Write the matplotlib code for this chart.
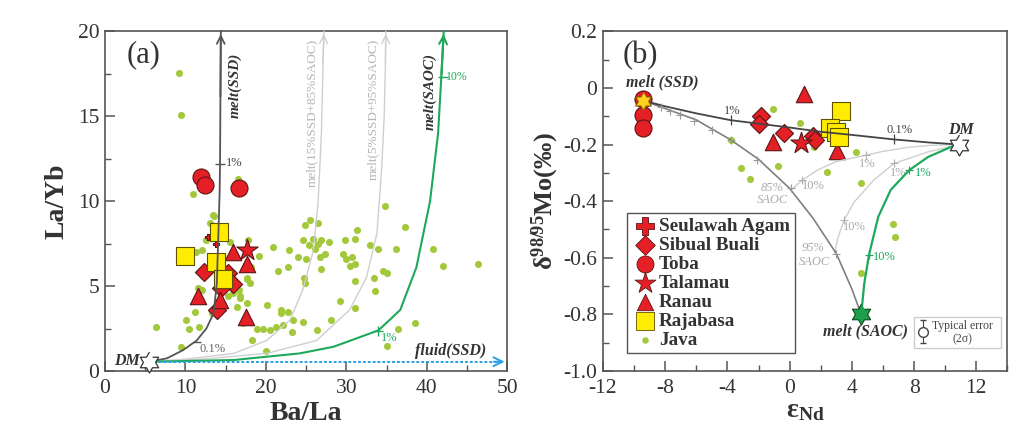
import numpy as np
import matplotlib
matplotlib.use('Agg')
import matplotlib.pyplot as plt
from matplotlib.ticker import MultipleLocator

plt.rcParams['font.family'] = ['Liberation Serif', 'DejaVu Serif']
plt.rcParams['mathtext.fontset'] = 'custom'
plt.rcParams['mathtext.rm'] = 'Liberation Serif'
plt.rcParams['mathtext.it'] = 'Liberation Serif:italic'
plt.rcParams['mathtext.bf'] = 'Liberation Serif:bold'

# ---------------- panel (a) data : Ba/La vs La/Yb ----------------
java_a_x = [9.24, 9.44, 10.98, 16.5, 13.5, 13.0, 17.8, 11.3, 19.1, 20.9, 21.5, 22.9, 22.8, 24.8, 25.5,
            26.5, 24.6, 25.3, 25.9, 26.5, 26.9, 27.8, 26.1, 24.0, 25.0, 26.7, 27.4, 26.8, 24.7, 24.9,
            29.8, 31.3, 31.1, 29.6, 30.0, 30.7, 30.4, 31.1, 31.1, 32.9, 33.9, 33.4, 33.6, 34.8, 34.6,
            35.0, 37.3, 36.2, 40.8, 42.0, 46.4, 31.1, 29.2, 20.1, 21.9, 21.9, 22.8, 23.4, 24.6, 21.2,
            22.1, 23.2, 19.7, 20.5, 18.9, 26.3, 28.1, 36.4, 38.5, 35.0, 20.0, 18.3, 6.3, 10.1, 10.4,
            11.7, 11.2, 9.4, 15.9, 16.8, 16.4, 17.6, 17.6, 18.0, 16.6, 17.2, 12.0, 11.8, 12.6, 12.0,
            15.5, 18.2, 13.4, 13.3, 15.3, 11.6, 16.8, 17.7]
java_a_y = [17.55, 15.1, 10.4, 11.3, 9.1, 8.7, 7.7, 7.0, 6.8, 7.3, 5.9, 7.1, 6.1, 8.6, 8.9,
            8.7, 7.7, 7.4, 7.8, 7.5, 7.7, 7.6, 7.2, 6.7, 6.6, 6.7, 6.9, 6.0, 5.5, 5.2,
            7.7, 8.3, 7.8, 6.9, 6.6, 6.7, 6.2, 6.3, 5.3, 7.4, 7.2, 5.5, 4.7, 9.7, 5.9,
            5.8, 8.5, 7.2, 7.2, 6.2, 6.3, 3.7, 4.1, 3.9, 3.6, 3.4, 3.5, 3.0, 2.9, 2.6,
            2.7, 2.3, 2.5, 2.4, 2.5, 2.4, 3.0, 2.5, 2.8, 1.5, 1.2, 1.8, 2.6, 3.0, 2.5,
            2.6, 3.5, 1.4, 4.6, 4.3, 3.8, 4.0, 5.4, 5.2, 4.8, 2.8, 4.8, 4.1, 7.7, 7.1,
            7.6, 6.1, 9.2, 3.4, 4.4, 4.9, 4.4, 5.5]

seul_a_x = [12.85, 13.77]
seul_a_y = [7.9, 7.47]
sibual_a_x = [12.3, 15.3, 15.9, 13.9, 14.4]
sibual_a_y = [5.85, 5.75, 5.15, 3.6, 4.9]
toba_a_x = [11.9, 12.45, 16.7]
toba_a_y = [11.4, 10.95, 10.8]
talamau_a_x = [17.7]
talamau_a_y = [7.1]
ranau_a_x = [15.9, 17.6, 11.6, 14.3, 17.5]
ranau_a_y = [7.0, 6.3, 4.4, 4.2, 3.2]
raja_a_x = [14.2, 9.95, 13.8, 14.7]
raja_a_y = [8.2, 6.8, 6.4, 5.4]

dm_a = (5.5, 0.55)

# model curves
ssd_a_x = [5.5, 7.7, 9.7, 11.4, 12.6, 13.5, 13.9, 14.1, 14.25, 14.3, 14.35, 14.4]
ssd_a_y = [0.55, 0.75, 1.23, 1.8, 2.5, 3.4, 5.15, 8.1, 10.5, 12.2, 16.0, 20.0]
mix15_x = [5.5, 10.0, 16.0, 20.1, 23.0, 24.6, 25.9, 26.5, 26.9, 27.1, 27.2]
mix15_y = [0.55, 0.7, 1.04, 1.8, 3.0, 4.8, 7.1, 10.0, 14.0, 18.0, 20.0]
mix5_x = [5.5, 12.0, 20.1, 26.3, 30.4, 32.5, 33.8, 34.4, 34.7, 34.85, 34.9]
mix5_y = [0.55, 0.7, 1.04, 1.8, 3.6, 5.5, 8.1, 12.0, 15.0, 18.0, 20.0]
saoc_a_x = [5.5, 16.0, 24.2, 28.4, 31.7, 34.0, 36.7, 38.7, 40.4, 41.4, 41.8, 42.1]
saoc_a_y = [0.55, 0.65, 1.04, 1.43, 2.0, 2.4, 3.6, 6.1, 10.0, 14.0, 17.3, 20.0]

# ---------------- panel (b) data : eNd vs d98/95Mo ----------------
java_b_x = [-1.1, 0.66, 1.57, -3.78, -3.11, -2.53, -0.76, 2.38, 4.27, 4.62, 6.62, 6.77, 4.62]
java_b_y = [-0.074, -0.125, -0.208, -0.185, -0.283, -0.321, -0.276, -0.297, -0.225, -0.335, -0.479, -0.526, -0.653]
sibual_b_x = [-1.83, -1.98, -0.37, 1.53, 1.61]
sibual_b_y = [-0.099, -0.129, -0.158, -0.17, -0.185]
toba_b_x = [-9.46, -9.46, -9.46]
toba_b_y = [-0.04, -0.097, -0.142]
talamau_b_x = [0.75]
talamau_b_y = [-0.193]
ranau_b_x = [0.91, -1.05, 3.03]
ranau_b_y = [-0.02, -0.192, -0.222]
raja_b_x = [3.33, 2.6, 3.0, 3.2]
raja_b_y = [-0.082, -0.14, -0.155, -0.172]

dm_b = (10.9, -0.2)
ssd_b = (-9.4, -0.045)
saoc_b = (4.6, -0.8)

dmssd_x = [10.9, 9.0, 6.7, 4.0, 2.0, 0.0, -1.9, -3.8, -6.0, -8.0, -9.4]
dmssd_y = [-0.2, -0.193, -0.182, -0.166, -0.155, -0.14, -0.127, -0.114, -0.09, -0.065, -0.045]
ssdsaoc_x = [-9.4, -8.3, -7.0, -6.0, -5.0, -3.8, -2.0, 0.0, 1.5, 3.0, 4.0, 4.6]
ssdsaoc_y = [-0.045, -0.067, -0.093, -0.113, -0.145, -0.183, -0.252, -0.355, -0.46, -0.585, -0.71, -0.8]
mix85_x = [10.9, 9.0, 7.6, 6.0, 4.9, 3.0, 1.8, 0.8, 0.1]
mix85_y = [-0.2, -0.203, -0.21, -0.224, -0.238, -0.26, -0.29, -0.326, -0.36]
mix95_x = [10.9, 8.9, 6.7, 5.4, 4.15, 3.5, 3.1, 2.9]
mix95_y = [-0.2, -0.226, -0.267, -0.326, -0.403, -0.467, -0.53, -0.582]
saoc_b_x = [10.9, 10.4, 8.9, 7.7, 6.5, 5.7, 5.1, 4.8, 4.6]
saoc_b_y = [-0.2, -0.208, -0.244, -0.29, -0.36, -0.455, -0.59, -0.69, -0.8]

# colours
RED = '#e41f26'
REDEDGE = '#5c1414'
YEL = '#ffec00'
YELEDGE = '#5e5200'
JAVA = '#a3c83c'
GREEN = '#1ea85a'
DARK = '#555555'
LIGHT = '#cfcfcf'
BLUE = '#2b9fe3'

# six-pointed star marker
ang = np.deg2rad(np.arange(12) * 30 + 90)
rad = np.where(np.arange(12) % 2 == 0, 1.0, 0.577)
hexstar = list(zip(rad * np.cos(ang), rad * np.sin(ang)))

fig = plt.figure(figsize=(10.29, 4.34), dpi=100)
ax1 = fig.add_axes([0.102, 0.145, 0.391, 0.783])
ax2 = fig.add_axes([0.586, 0.145, 0.393, 0.783])

ms = dict(edgecolors=REDEDGE, linewidths=0.8, zorder=4)


def red_groups(ax, d):
    ax.scatter(d['seul'][0], d['seul'][1], marker='P', s=20, color=RED, **ms)
    ax.scatter(d['sib'][0], d['sib'][1], marker='D', s=85, color=RED, **ms)
    ax.scatter(d['toba'][0], d['toba'][1], marker='o', s=150, color=RED, **ms)
    ax.scatter(d['tal'][0], d['tal'][1], marker='*', s=260, color=RED, **ms)
    ax.scatter(d['ran'][0], d['ran'][1], marker='^', s=140, color=RED, **ms)
    ax.scatter(d['raj'][0], d['raj'][1], marker='s', s=150, color=YEL,
               edgecolors=YELEDGE, linewidths=0.8, zorder=4)


# ---------------- panel (a) ----------------
ax1.scatter(java_a_x, java_a_y, s=26, color=JAVA, linewidths=0, zorder=2)
red_groups(ax1, {'seul': (seul_a_x, seul_a_y), 'sib': (sibual_a_x, sibual_a_y),
                 'toba': (toba_a_x, toba_a_y), 'tal': (talamau_a_x, talamau_a_y),
                 'ran': (ranau_a_x, ranau_a_y), 'raj': (raja_a_x, raja_a_y)})

for cx, cy, col, lw in [(mix15_x, mix15_y, LIGHT, 1.0), (mix5_x, mix5_y, LIGHT, 1.0),
                        (ssd_a_x, ssd_a_y, DARK, 1.3), (saoc_a_x, saoc_a_y, GREEN, 1.5)]:
    ax1.plot(cx, cy, color=col, lw=lw, zorder=5, clip_on=False)
    ax1.annotate('', xy=(cx[-1], cy[-1]), xytext=(cx[-2], cy[-2]), zorder=5,
                 arrowprops=dict(arrowstyle='->', color=col, lw=lw, mutation_scale=14),
                 annotation_clip=False)

ax1.plot([dm_a[0], 49.6], [dm_a[1], dm_a[1]], color=BLUE, ls=(0, (1.5, 1)), lw=1.4, zorder=5)
ax1.annotate('', xy=(50, dm_a[1]), xytext=(48, dm_a[1]), annotation_clip=False,
             arrowprops=dict(arrowstyle='->', color=BLUE, lw=1.4, mutation_scale=16))
ax1.scatter([dm_a[0]], [dm_a[1]], marker=hexstar, s=230, color='white',
            edgecolors='#333333', linewidths=0.9, zorder=6, clip_on=False)

# tick marks on curves
ax1.plot([14.3], [12.2], marker='_', ms=7, color=DARK, zorder=6)
ax1.plot([11.5], [1.72], marker='_', ms=6, color=DARK, zorder=6)
ax1.plot([33.9], [2.35], marker='+', ms=7, color=GREEN, zorder=6)
ax1.plot([42.0], [17.3], marker='_', ms=7, color=GREEN, zorder=6)

ax1.text(15.0, 12.25, '1%', fontsize=9, color='#444444', va='center')
ax1.text(11.8, 1.3, '0.1%', fontsize=9, color='#666666', va='center')
ax1.text(34.3, 1.95, '1%', fontsize=9, color=GREEN, va='center')
ax1.text(42.4, 17.3, '10%', fontsize=8.5, color=GREEN, va='center')
ax1.text(16.15, 16.8, 'melt(SSD)', rotation=90, fontsize=11, fontweight='bold', style='italic',
         color='#333333', ha='center', va='center')
ax1.text(40.4, 16.45, 'melt(SAOC)', rotation=90, fontsize=11, fontweight='bold', style='italic',
         color='#333333', ha='center', va='center')
ax1.text(25.7, 15.2, 'melt(15%SSD+85%SAOC)', rotation=90, fontsize=9.5, color='#b5b5b5',
         ha='center', va='center')
ax1.text(33.35, 15.4, 'melt(5%SSD+95%SAOC)', rotation=90, fontsize=9.5, color='#b5b5b5',
         ha='center', va='center')
ax1.text(43.0, 1.2, 'fluid(SSD)', fontsize=11.5, fontweight='bold', style='italic',
         color='#333333', ha='center', va='center')
ax1.text(4.4, 0.6, 'DM', fontsize=11.5, fontweight='bold', style='italic',
         color='#333333', ha='right', va='center')
ax1.text(4.8, 18.6, '(a)', fontsize=22, color='#333333', ha='center', va='center')

ax1.set_xlim(0, 50)
ax1.set_ylim(0, 20)
ax1.xaxis.set_major_locator(MultipleLocator(10))
ax1.xaxis.set_minor_locator(MultipleLocator(5))
ax1.yaxis.set_major_locator(MultipleLocator(5))
ax1.yaxis.set_minor_locator(MultipleLocator(2.5))
ax1.set_xticks([0, 10, 20, 30, 40, 50])
ax1.set_xticklabels(['0', '10', '20', '30', '40', '50'])
ax1.set_yticks([0, 5, 10, 15, 20])
ax1.set_yticklabels(['0', '5', '10', '15', '20'])
ax1.set_xlabel('Ba/La', fontsize=20, fontweight='bold', labelpad=2)
ax1.set_ylabel('La/Yb', fontsize=20, fontweight='bold', labelpad=6)

# ---------------- panel (b) ----------------
ax2.scatter(java_b_x, java_b_y, s=26, color=JAVA, linewidths=0, zorder=2)
red_groups(ax2, {'seul': ([], []), 'sib': (sibual_b_x, sibual_b_y),
                 'toba': (toba_b_x, toba_b_y), 'tal': (talamau_b_x, talamau_b_y),
                 'ran': (ranau_b_x, ranau_b_y), 'raj': (raja_b_x, raja_b_y)})

ax2.plot(mix85_x, mix85_y, color=LIGHT, lw=1.0, zorder=5)
ax2.plot(mix95_x, mix95_y, color=LIGHT, lw=1.0, zorder=5)
ax2.plot(ssdsaoc_x, ssdsaoc_y, color='#808080', lw=1.2, zorder=5)
ax2.plot(dmssd_x, dmssd_y, color='#444444', lw=1.3, zorder=5)
ax2.plot(saoc_b_x, saoc_b_y, color=GREEN, lw=1.6, zorder=5)

# tick crosses along curves
ax2.plot([-8.3, -7.68, -7.03, -6.13, -5.0, -3.8, -2.08, 0.06, 2.96],
         [-0.069, -0.081, -0.097, -0.117, -0.147, -0.185, -0.255, -0.355, -0.585],
         ls='none', marker='+', ms=6, mew=0.8, color='#999999', zorder=6)
ax2.plot([4.9, 0.82, 6.73, 3.5], [-0.238, -0.326, -0.267, -0.467],
         ls='none', marker='+', ms=6, mew=0.8, color='#b0b0b0', zorder=6)
ax2.plot([7.7, 5.12], [-0.29, -0.59], ls='none', marker='+', ms=6, mew=0.9, color=GREEN, zorder=6)
ax2.plot([6.7, -3.8], [-0.182, -0.114], ls='none', marker='|', ms=7, mew=0.9, color='#444444', zorder=6)

ax2.scatter([dm_b[0]], [dm_b[1]], marker=hexstar, s=230, color='white',
            edgecolors='#333333', linewidths=0.9, zorder=7)
ax2.scatter([ssd_b[0]], [ssd_b[1]], marker=hexstar, s=170, color='#ffd21f',
            edgecolors='#8a5a00', linewidths=0.8, zorder=7)
ax2.scatter([saoc_b[0]], [saoc_b[1]], marker=hexstar, s=230, color='#1e9e4a',
            edgecolors='#0b4a20', linewidths=0.8, zorder=7)

ax2.text(-8.2, 0.02, 'melt (SSD)', fontsize=11.5, fontweight='bold', style='italic',
         color='#333333', ha='center', va='center')
ax2.text(4.9, -0.86, 'melt (SAOC)', fontsize=11.5, fontweight='bold', style='italic',
         color='#333333', ha='center', va='center')
ax2.text(11.0, -0.148, 'DM', fontsize=11.5, fontweight='bold', style='italic',
         color='#333333', ha='center', va='center')
ax2.text(-3.7, -0.082, '1%', fontsize=9, color='#444444', ha='center', va='center')
ax2.text(7.05, -0.147, '0.1%', fontsize=9, color='#444444', ha='center', va='center')
ax2.text(5.0, -0.268, '1%', fontsize=9, color='#aaaaaa', ha='center', va='center')
ax2.text(6.95, -0.3, '1%', fontsize=9, color='#aaaaaa', ha='center', va='center')
ax2.text(8.6, -0.3, '1%', fontsize=9, color=GREEN, ha='center', va='center')
ax2.text(1.5, -0.347, '10%', fontsize=9, color='#aaaaaa', ha='center', va='center')
ax2.text(4.15, -0.49, '10%', fontsize=9, color='#aaaaaa', ha='center', va='center')
ax2.text(6.1, -0.597, '10%', fontsize=9, color=GREEN, ha='center', va='center')
ax2.text(-1.1, -0.355, '85%', fontsize=9, style='italic', color='#aaaaaa', ha='center', va='center')
ax2.text(-1.1, -0.397, 'SAOC', fontsize=9, style='italic', color='#aaaaaa', ha='center', va='center')
ax2.text(1.5, -0.567, '95%', fontsize=9, style='italic', color='#aaaaaa', ha='center', va='center')
ax2.text(1.6, -0.614, 'SAOC', fontsize=9, style='italic', color='#aaaaaa', ha='center', va='center')
ax2.text(-9.6, 0.115, '(b)', fontsize=22, color='#333333', ha='center', va='center')

# typical error box
ax2.add_patch(plt.Rectangle((8.0, -0.917), 5.6, 0.109, fill=False, ec='#cccccc', lw=1.0, zorder=6))
ax2.errorbar([8.55], [-0.861], yerr=[0.04], fmt='o', ms=7, mfc='white', mec='#444444',
             ecolor='#444444', elinewidth=0.8, capsize=2, zorder=7)
ax2.text(11.1, -0.84, 'Typical error', fontsize=8.5, color='#444444', ha='center', va='center')
ax2.text(11.1, -0.888, '(2σ)', fontsize=8.5, color='#444444', ha='center', va='center')

ax2.set_xlim(-12, 14)
ax2.set_ylim(-1.0, 0.2)
ax2.xaxis.set_minor_locator(MultipleLocator(2))
ax2.yaxis.set_minor_locator(MultipleLocator(0.1))
ax2.set_yticks([0.2, 0.0, -0.2, -0.4, -0.6, -0.8, -1.0])
ax2.set_yticklabels(['0.2', '0', '-0.2', '-0.4', '-0.6', '-0.8', '-1.0'])
ax2.set_xticks([-12, -8, -4, 0, 4, 8, 12])
ax2.set_xticklabels(['-12', '-8', '-4', '0', '4', '8', '12'])
ax2.set_xlabel(r'ε$_{\mathbf{Nd}}$', fontsize=20, fontweight='bold', labelpad=0)
ax2.set_ylabel(r'$\mathbf{\delta}^{\mathbf{98/95}}$Mo(‰)', fontsize=19, fontweight='bold', labelpad=2)

# legend built from proxy handles
hd = [
    ax2.scatter([], [], marker='P', s=150, color=RED, edgecolors=REDEDGE, linewidths=0.6),
    ax2.scatter([], [], marker='D', s=100, color=RED, edgecolors=REDEDGE, linewidths=0.6),
    ax2.scatter([], [], marker='o', s=150, color=RED, edgecolors=REDEDGE, linewidths=0.6),
    ax2.scatter([], [], marker='*', s=250, color=RED, edgecolors=REDEDGE, linewidths=0.6),
    ax2.scatter([], [], marker='^', s=140, color=RED, edgecolors=REDEDGE, linewidths=0.6),
    ax2.scatter([], [], marker='s', s=150, color=YEL, edgecolors=YELEDGE, linewidths=0.6),
    ax2.scatter([], [], marker='o', s=22, color=JAVA, linewidths=0),
]
names = ['Seulawah Agam', 'Sibual Buali', 'Toba', 'Talamau', 'Ranau', 'Rajabasa', 'Java']
leg = ax2.legend(hd, names, loc='lower left', bbox_to_anchor=(0.06, 0.052), borderaxespad=0,
                 prop={'family': 'Liberation Serif', 'size': 13.8, 'weight': 'bold'},
                 labelspacing=0.08, handletextpad=0.1, handlelength=1.3, borderpad=0.25,
                 fancybox=False, edgecolor='#555555', framealpha=1)
leg.get_frame().set_linewidth(1.0)
for t in leg.get_texts():
    t.set_color('#333333')

for ax in (ax1, ax2):
    for sp in ax.spines.values():
        sp.set_color('#555555')
        sp.set_linewidth(1.2)
    ax.tick_params(which='major', direction='in', length=7, width=1.1, color='#555555',
                   labelsize=15.5, labelcolor='#333333', pad=4)
    ax.tick_params(which='minor', direction='in', length=4, width=1.0, color='#555555')
    ax.tick_params(axis='x', which='major', pad=6)
    for lbl in ax.get_xticklabels() + ax.get_yticklabels():
        lbl.set_fontfamily('Liberation Serif')
    ax.xaxis.label.set_color('#333333')
    ax.yaxis.label.set_color('#333333')

fig.savefig('out.png', dpi=100)
